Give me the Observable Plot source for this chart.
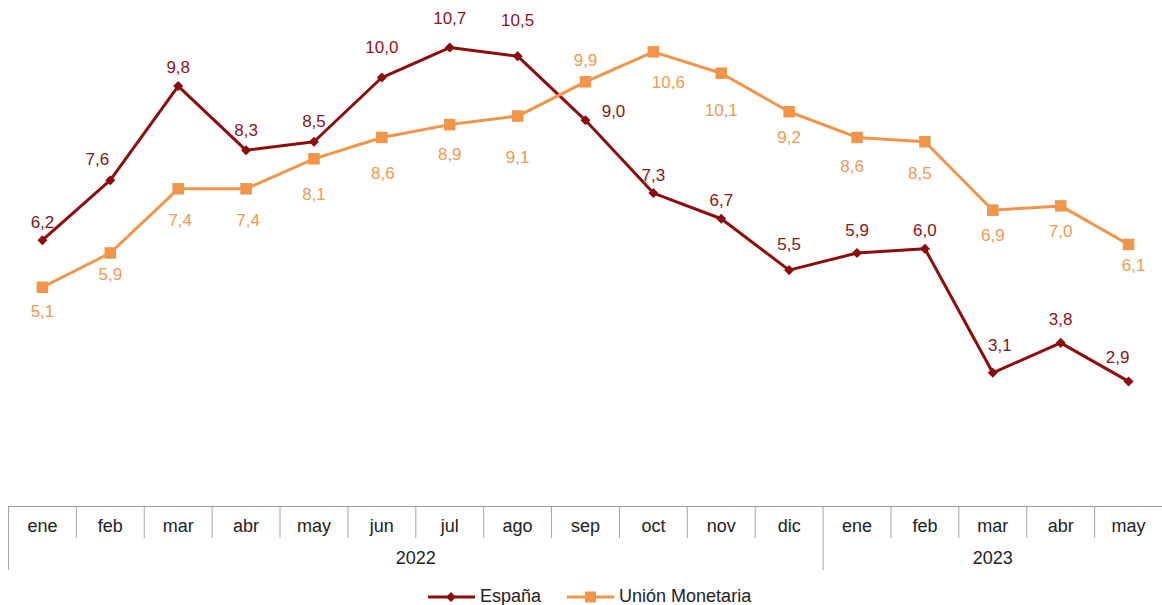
<!DOCTYPE html>
<html>
<head>
<meta charset="utf-8">
<script src="https://cdn.jsdelivr.net/npm/d3@7"></script>
<script src="https://cdn.jsdelivr.net/npm/@observablehq/plot@0.6"></script>
<style>
  html, body { margin: 0; padding: 0; background: #fff; }
  #wrap { position: relative; width: 1162px; height: 605px; font-family: "Liberation Sans", Arial, sans-serif; }
  #wrap svg { display: block; }
  #legend { position: absolute; top: 586px; left: 428px; display: flex; align-items: center; font-size: 18px; color: #222; }
  .item { display: flex; align-items: center; }
  .item span { margin-left: 5px; }
</style>
</head>
<body>
<div id="wrap">
  <div id="main"></div>
  <div id="table"></div>
  <div id="legend"></div>
</div>
<script>
// ---- data ----
const months = ["ene","feb","mar","abr","may","jun","jul","ago","sep","oct","nov","dic","ene","feb","mar","abr","may"];
const years = ["2022","2022","2022","2022","2022","2022","2022","2022","2022","2022","2022","2022","2023","2023","2023","2023","2023"];
const espana = [6.2, 7.6, 9.8, 8.3, 8.5, 10.0, 10.7, 10.5, 9.0, 7.3, 6.7, 5.5, 5.9, 6.0, 3.1, 3.8, 2.9];
const union  = [5.1, 5.9, 7.4, 7.4, 8.1, 8.6, 8.9, 9.1, 9.9, 10.6, 10.1, 9.2, 8.6, 8.5, 6.9, 7.0, 6.1];
const seriesNames = ["España", "Unión Monetaria"];

// ---- label layout (pixel nudges, kept apart from the data) ----
const espLabelDx = [0, -13, 0, 0, 0, 0, 0, 0, 28, 0, 0, 0, 0, 0, 7, 0, -11];
const espLabelDy = [-18, -21, -19, -20, -20, -30, -29, -36, -9, -18, -18, -26, -22, -18, -27, -23, -24];
const uniLabelDx = [0, 0, 2, 2, 0, 1, 0, 0, 0, 15, 0, 0, -5, -5, 0, 0, 5];
const uniLabelDy = [24, 22, 32, 32, 36, 36, 30, 41, -21, 31, 37, 26, 29, 32, 25, 26, 21];

// ---- styles ----
const cEsp = "#8c0d0d", cUni = "#f0954a";
const cEspLab = "#8c1515", cUniLab = "#f09a52";
const font = "Liberation Sans, Arial, sans-serif";
const W = 1162;
const fmt = v => v.toFixed(1).replace(".", ",");

const esp = espana.map((v, i) => ({i, v}));
const uni = union.map((v, i) => ({i, v}));
const xDomain = [-0.5, months.length - 0.5];

// one text mark per label so each can take its own nudge
const labelMarks = (data, dxs, dys, color) => data.map(d =>
  Plot.text([d], {x: "i", y: "v", text: d => fmt(d.v), dx: dxs[d.i], dy: dys[d.i], fill: color, fontSize: 17})
);

const main = Plot.plot({
  width: W, height: 506,
  marginLeft: 8, marginRight: 0, marginTop: 0, marginBottom: 1,
  x: {domain: xDomain, axis: null},
  y: {domain: [0, 11.8], axis: null},
  style: {fontFamily: font, fontSize: "17px", background: "transparent"},
  marks: [
    Plot.line(esp, {x: "i", y: "v", stroke: cEsp, strokeWidth: 3}),
    Plot.dot(esp, {x: "i", y: "v", symbol: "square", r: 4, rotate: 45, fill: cEsp, stroke: "none"}),
    Plot.line(uni, {x: "i", y: "v", stroke: cUni, strokeWidth: 3}),
    Plot.dot(uni, {x: "i", y: "v", symbol: "square", r: 6.5, fill: cUni, stroke: "none"}),
    ...labelMarks(esp, espLabelDx, espLabelDy, cEspLab),
    ...labelMarks(uni, uniLabelDx, uniLabelDy, cUniLab)
  ]
});
document.getElementById("main").appendChild(main);

// ---- category table axis ----
const boundaries = d3.range(months.length).map(i => i - 0.5);
const yearGroups = d3.groups(months.map((m, i) => ({i, y: years[i]})), d => d.y)
  .map(([y, arr]) => ({year: y, start: arr[0].i - 0.5, end: arr[arr.length - 1].i + 0.5}));
const yearStarts = new Set(yearGroups.map(g => g.start));
const monthCells = months.map((m, i) => ({i, m}));

const table = Plot.plot({
  width: W, height: 64,
  marginLeft: 8, marginRight: 0, marginTop: 0, marginBottom: 0,
  x: {domain: xDomain, axis: null},
  y: {domain: [0, 2], reverse: true, axis: null},
  style: {fontFamily: font, fontSize: "18px", background: "transparent"},
  marks: [
    Plot.ruleX(boundaries.filter(b => !yearStarts.has(b)), {x: d => d, y1: 0, y2: 1, stroke: "#a6a6a6", strokeWidth: 1}),
    Plot.ruleX(boundaries.filter(b => yearStarts.has(b)), {x: d => d, y1: 0, y2: 2, stroke: "#a6a6a6", strokeWidth: 1}),
    Plot.ruleY([0], {x1: xDomain[0], x2: xDomain[1], stroke: "#999", strokeWidth: 1.2}),
    Plot.text(monthCells, {x: "i", y: () => 0.5, dy: 4, text: "m", fill: "#222", fontSize: 18}),
    Plot.text(yearGroups, {x: d => (d.start + d.end) / 2, y: () => 1.5, dy: 4, text: "year", fill: "#222", fontSize: 18})
  ]
});
document.getElementById("table").appendChild(table);

// ---- legend ----
const legend = document.getElementById("legend");
[[seriesNames[0], cEsp, "diamond"], [seriesNames[1], cUni, "square"]].forEach(([name, col, sym], k) => {
  const item = document.createElement("div");
  item.className = "item";
  if (k > 0) item.style.marginLeft = "26px";
  const marker = sym === "diamond"
    ? `<rect x="19.5" y="3.5" width="7" height="7" fill="${col}" transform="rotate(45 23 7)"/>`
    : `<rect x="18" y="1.5" width="11" height="11" fill="${col}"/>`;
  item.innerHTML = `<svg width="47" height="14"><line x1="0" x2="47" y1="7" y2="7" stroke="${col}" stroke-width="3"/>${marker}</svg><span>${name}</span>`;
  legend.appendChild(item);
});
</script>
</body>
</html>
